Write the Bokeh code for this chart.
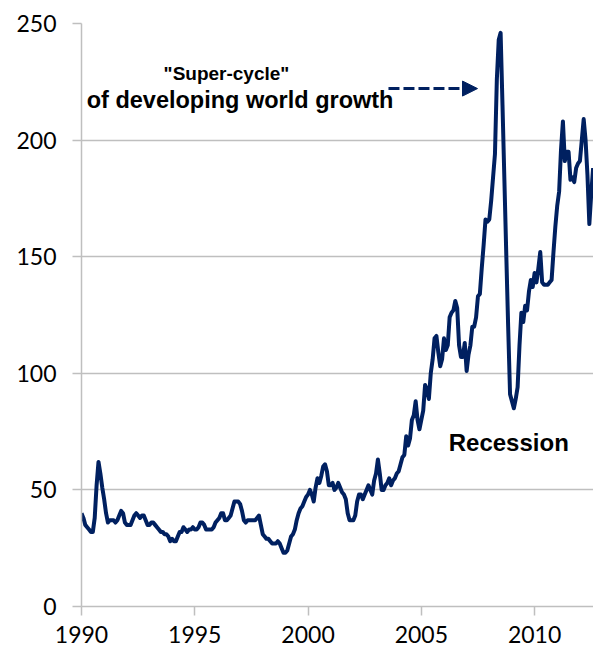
from bokeh.plotting import figure
from bokeh.models import Label, Arrow, NormalHead, FixedTicker, Range1d, ColumnDataSource
from bokeh.embed import file_html
from bokeh.resources import INLINE

# Monthly index values, Jan 1990 .. Aug 2012
start_year = 1990
y1990 = [40, 38, 35, 34, 33, 32, 32, 38, 52, 62, 57, 51]
y1991 = [46, 40, 36, 37, 37, 37, 36, 37, 39, 41, 40, 36]
y1992 = [35, 35, 35, 37, 39, 40, 39, 38, 39, 39, 37, 35]
y1993 = [35, 36, 36, 35, 34, 33, 32, 32, 31, 31, 30, 28]
y1994 = [29, 28, 28, 30, 32, 32, 34, 33, 32, 33, 33, 34]
y1995 = [33, 33, 34, 36, 36, 35, 33, 33, 33, 33, 34, 36]
y1996 = [37, 38, 40, 40, 37, 37, 38, 39, 42, 45, 45, 45]
y1997 = [44, 41, 37, 36, 37, 37, 37, 37, 37, 38, 39, 35]
y1998 = [31, 30, 29, 29, 28, 27, 27, 27, 28, 27, 25, 23]
y1999 = [23, 24, 27, 30, 31, 33, 37, 40, 42, 43, 45, 47]
y2000 = [48, 50, 48, 45, 51, 55, 53, 56, 60, 61, 58, 52]
y2001 = [52, 53, 50, 51, 53, 51, 49, 48, 46, 40, 37, 37]
y2002 = [37, 39, 45, 48, 48, 46, 48, 50, 52, 50, 48, 54]
y2003 = [57, 63, 57, 50, 50, 52, 53, 55, 52, 54, 55, 57]
y2004 = [58, 61, 64, 65, 73, 69, 72, 80, 82, 88, 80, 76]
y2005 = [80, 84, 95, 93, 89, 100, 106, 115, 116, 109, 103, 106]
y2006 = [115, 110, 112, 124, 126, 127, 131, 128, 112, 107, 107, 113]
y2007 = [101, 108, 112, 120, 120, 124, 133, 134, 145, 155, 166, 165]
y2008 = [166, 174, 184, 194, 226, 243, 246, 215, 183, 151, 120, 91]
y2009 = [88, 85, 89, 94, 112, 126, 122, 129, 127, 135, 140, 137]
y2010 = [143, 139, 145, 152, 139, 138, 138, 138, 139, 140, 152, 163]
y2011 = [172, 178, 196, 208, 191, 195, 195, 183, 184, 182, 188, 190]
y2012 = [191, 200, 209, 200, 185, 164, 177, 188]

values = (y1990 + y1991 + y1992 + y1993 + y1994 + y1995 + y1996 + y1997 + y1998
          + y1999 + y2000 + y2001 + y2002 + y2003 + y2004 + y2005 + y2006 + y2007
          + y2008 + y2009 + y2010 + y2011 + y2012)
dates = [start_year + i / 12 for i in range(len(values))]

x_ticks = [1990, 1995, 2000, 2005, 2010]
y_ticks = [0, 50, 100, 150, 200, 250]

navy = "#002060"
grey = "#BFBFBF"

src = ColumnDataSource(dict(x=dates, y=values))

p = figure(width=593, height=653, output_backend="svg", toolbar_location=None,
           x_range=Range1d(1990, 2012.6), y_range=Range1d(0, 250),
           min_border_left=81, min_border_right=0, min_border_top=23,
           min_border_bottom=47)
p.outline_line_color = None
p.background_fill_color = "white"
p.border_fill_color = "white"

p.line("x", "y", source=src, line_color=navy, line_width=4, line_join="round")

p.xgrid.visible = False
p.ygrid.grid_line_color = grey
p.ygrid.grid_line_width = 1.5
p.ygrid.ticker = FixedTicker(ticks=y_ticks)

for ax in (p.xaxis[0], p.yaxis[0]):
    ax.axis_line_color = grey
    ax.axis_line_width = 1.5
    ax.major_tick_line_color = grey
    ax.major_tick_line_width = 1.5
    ax.major_tick_in = 0
    ax.major_tick_out = 9
    ax.minor_tick_line_color = None
    ax.major_label_text_font = "Lato"
    ax.major_label_text_font_size = "23px"
    ax.major_label_text_color = "black"

p.xaxis[0].ticker = FixedTicker(ticks=x_ticks)
p.yaxis[0].ticker = FixedTicker(ticks=y_ticks)
p.xaxis[0].major_label_standoff = 10
p.yaxis[0].major_label_standoff = 16

font = "Liberation Sans"
p.add_layout(Label(x=1996.4, y=228.6, text='"Super-cycle"', text_align="center",
                   text_baseline="alphabetic", text_font=font, text_font_style="bold",
                   text_font_size="19px", text_color="black"))
p.add_layout(Label(x=1997.0, y=217.0, text="of developing world growth", text_align="center",
                   text_baseline="alphabetic", text_font=font, text_font_style="bold",
                   text_font_size="23.5px", text_color="black"))
p.add_layout(Label(x=2008.86, y=70.3, text="Recession", text_align="center",
                   text_baseline="alphabetic", text_font=font, text_font_style="bold",
                   text_font_size="24px", text_color="black"))
p.add_layout(Arrow(end=NormalHead(size=15, fill_color=navy, line_color=navy, line_width=1),
                   x_start=2003.55, y_start=222.1, x_end=2007.48, y_end=222.1,
                   line_color=navy, line_width=3, line_dash="11 4"))

open("out.html", "w").write(file_html(p, INLINE))
